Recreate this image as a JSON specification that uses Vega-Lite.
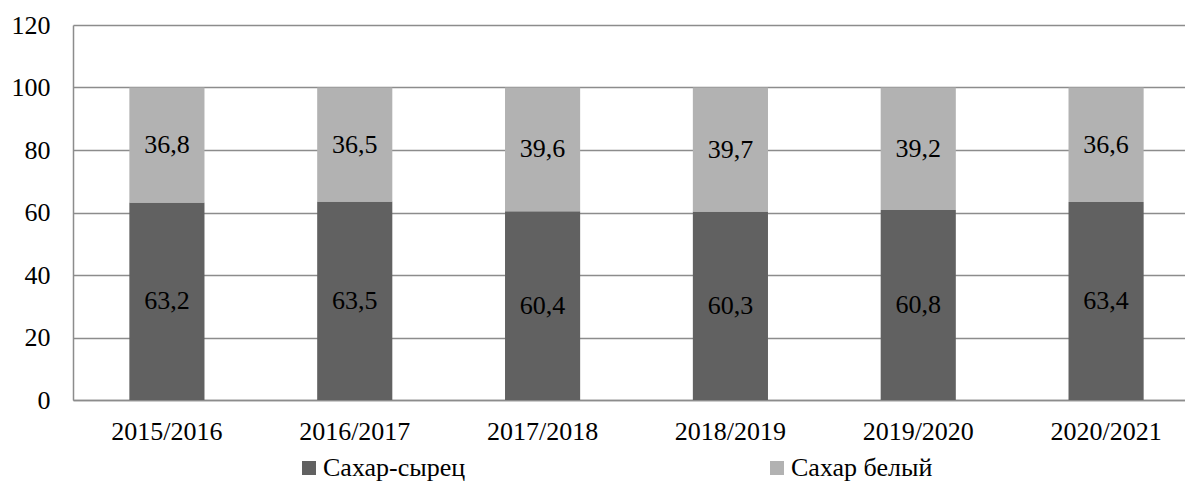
{
  "$schema": "https://vega.github.io/schema/vega-lite/v6.json",
  "width": 1110,
  "height": 375,
  "autosize": {"type": "none"},
  "padding": {"left": 73, "top": 25, "right": 2, "bottom": 90},
  "background": "white",
  "config": {
    "locale": {"number": {"decimal": ",", "thousands": " ", "grouping": [3], "currency": ["", ""]}},
    "font": "'Liberation Serif', 'Times New Roman', serif",
    "view": {"stroke": null},
    "axis": {"labelFont": "'Liberation Serif', 'Times New Roman', serif", "labelFontSize": 26, "labelColor": "#000000", "domainColor": "#8c8c8c", "gridColor": "#8c8c8c", "gridWidth": 1.5, "domainWidth": 1.5, "ticks": false, "title": null},
    "legend": {"labelFont": "'Liberation Serif', 'Times New Roman', serif", "labelFontSize": 26, "labelColor": "#000000"}
  },
  "data": {
    "values": [
      {"season": "2015/2016", "type": "Сахар-сырец", "value": 63.2, "ord": 1},
      {"season": "2015/2016", "type": "Сахар белый", "value": 36.8, "ord": 2},
      {"season": "2016/2017", "type": "Сахар-сырец", "value": 63.5, "ord": 1},
      {"season": "2016/2017", "type": "Сахар белый", "value": 36.5, "ord": 2},
      {"season": "2017/2018", "type": "Сахар-сырец", "value": 60.4, "ord": 1},
      {"season": "2017/2018", "type": "Сахар белый", "value": 39.6, "ord": 2},
      {"season": "2018/2019", "type": "Сахар-сырец", "value": 60.3, "ord": 1},
      {"season": "2018/2019", "type": "Сахар белый", "value": 39.7, "ord": 2},
      {"season": "2019/2020", "type": "Сахар-сырец", "value": 60.8, "ord": 1},
      {"season": "2019/2020", "type": "Сахар белый", "value": 39.2, "ord": 2},
      {"season": "2020/2021", "type": "Сахар-сырец", "value": 63.4, "ord": 1},
      {"season": "2020/2021", "type": "Сахар белый", "value": 36.6, "ord": 2}
    ]
  },
  "encoding": {
    "x": {
      "field": "season", "type": "nominal", "sort": null,
      "scale": {"range": [0, 1127], "paddingInner": 0.6, "paddingOuter": 0.3},
      "axis": {"labelAngle": 0, "labelPadding": 18, "grid": false, "domain": true}
    },
    "y": {
      "field": "value", "type": "quantitative", "stack": "zero",
      "scale": {"domain": [0, 120], "nice": false},
      "axis": {"values": [0, 20, 40, 60, 80, 100, 120], "labelPadding": 23, "grid": true, "domain": true}
    },
    "order": {"field": "ord", "type": "quantitative"}
  },
  "layer": [
    {
      "mark": {"type": "bar"},
      "encoding": {
        "color": {
          "field": "type", "type": "nominal",
          "scale": {"domain": ["Сахар-сырец", "Сахар белый"], "range": ["#616161", "#b2b2b2"]},
          "legend": {
            "title": null, "orient": "none", "direction": "horizontal", "columns": 2,
            "legendX": 223, "legendY": 430, "symbolType": "square", "symbolSize": 196,
            "symbolStrokeWidth": 0, "symbolOpacity": 1, "labelOffset": 1, "columnPadding": 298
          }
        }
      }
    },
    {
      "mark": {"type": "text", "fontSize": 26, "font": "'Liberation Serif', 'Times New Roman', serif", "color": "#000000", "baseline": "middle"},
      "encoding": {
        "y": {"field": "value", "type": "quantitative", "stack": "zero", "bandPosition": 0.5},
        "text": {"field": "value", "type": "quantitative", "format": ".1f"}
      }
    }
  ]
}
